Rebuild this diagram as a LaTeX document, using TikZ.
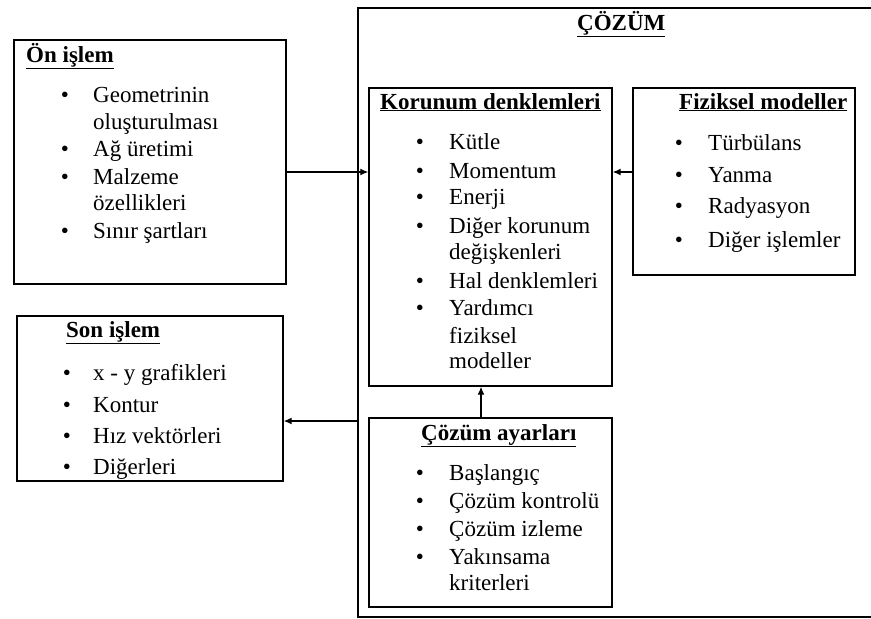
\documentclass[tikz,border=0pt]{standalone}
\usepackage{fontspec}
\setmainfont{Liberation Serif}
\usetikzlibrary{arrows.meta}
\newcommand{\boxfont}{\fontsize{23}{27}\selectfont}
\tikzstyle{box}=[draw, line width=1.4pt, inner sep=0pt]
\tikzstyle{item}=[anchor=base west, inner sep=0pt]
\tikzstyle{dot}=[anchor=base, inner sep=0pt]
\tikzstyle{head}=[anchor=base west, inner sep=0pt, font=\boxfont\bfseries]
\tikzstyle{to}=[-{Latex[length=8pt,width=7pt]}, line width=1.3pt]

\begin{document}
\begin{tikzpicture}[x=1pt, y=-1pt, font=\boxfont]
\useasboundingbox (0,0) rectangle (871,619);
% frame of the solver part
\draw[line width=1.4pt] (875,8) -- (358,8) -- (358,617) -- (875,617);
\node[head] (cozT) at (577,30) {\underline{ÇÖZÜM}};
% boxes
\node[box, minimum width=272, minimum height=244] (on) at (150,162) {};
\node[box, minimum width=266, minimum height=165] (son) at (150,398.5) {};
\node[box, minimum width=243, minimum height=298] (kor) at (490.5,237) {};
\node[box, minimum width=222, minimum height=187] (fiz) at (744,181.5) {};
\node[box, minimum width=243, minimum height=189] (ayar) at (490.5,512.5) {};
% titles
\node[head] (onT) at (26,62) {\underline{Ön işlem}};
\node[head] (sonT) at (66,337) {\underline{Son işlem}};
\node[head] (korT) at (380,109) {\underline{Korunum denklemleri}};
\node[head] (fizT) at (679,109) {\underline{Fiziksel modeller}};
\node[head] (ayarT) at (421,440) {\underline{Çözüm ayarları}};
% lists
\foreach \t/\y [count=\i] in {Geometrinin/102, oluşturulması/129, Ağ üretimi/156, Malzeme/184, özellikleri/210, Sınır şartları/238}
	\node[item] (on\i) at (93,\y) {\t};
\foreach \y [count=\i] in {102,156,184,238}
	\node[dot] (onb\i) at (65,\y) {\textbullet};
\foreach \t/\y [count=\i] in {x - y grafikleri/380, Kontur/412, Hız vektörleri/443, Diğerleri/474} {
	\node[item] (son\i) at (93,\y) {\t};
	\node[dot] (sonb\i) at (67,\y) {\textbullet};
}
\foreach \t/\y [count=\i] in {Kütle/149, Momentum/178, Enerji/204, Diğer korunum/233, değişkenleri/259, Hal denklemleri/288, Yardımcı/315, fiziksel/343, modeller/368}
	\node[item] (kor\i) at (449,\y) {\t};
\foreach \y [count=\i] in {149,178,204,233,288,315}
	\node[dot] (korb\i) at (420,\y) {\textbullet};
\foreach \t/\y [count=\i] in {Türbülans/150, Yanma/182, Radyasyon/213, Diğer işlemler/247} {
	\node[item] (fiz\i) at (708,\y) {\t};
	\node[dot] (fizb\i) at (679,\y) {\textbullet};
}
\foreach \t/\y [count=\i] in {Başlangıç/480, Çözüm kontrolü/508, Çözüm izleme/536, Yakınsama/564, kriterleri/590}
	\node[item] (ayar\i) at (449,\y) {\t};
\foreach \y [count=\i] in {480,508,536,564}
	\node[dot] (ayarb\i) at (420,\y) {\textbullet};
% connectors
\coordinate (row) at (0,172);
\coordinate (col) at (481,0);
\coordinate (cozL) at (358,421);
\draw[to] (on.east |- row) -- (kor.west |- row);
\draw[to] (fiz.west |- row) -- (kor.east |- row);
\draw[to] (ayar.north -| col) -- (kor.south -| col);
\draw[to] (cozL) -- (son.east |- cozL);
\end{tikzpicture}
\end{document}
